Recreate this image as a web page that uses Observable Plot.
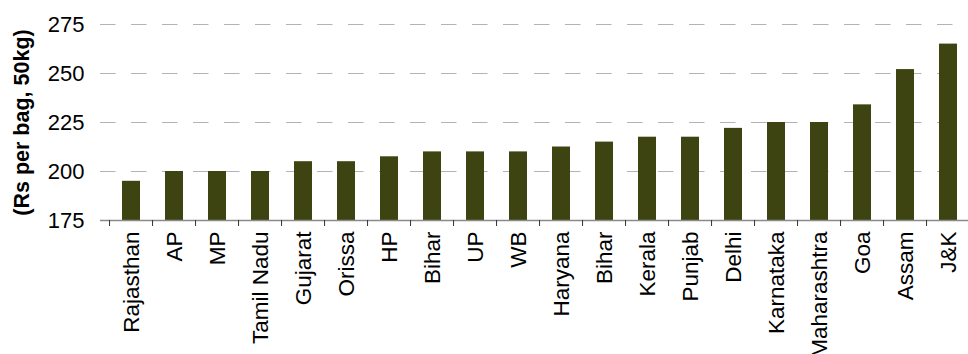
<!DOCTYPE html>
<html>
<head>
<meta charset="utf-8">
<script src="https://cdn.jsdelivr.net/npm/d3@7"></script>
<script src="https://cdn.jsdelivr.net/npm/@observablehq/plot@0.6"></script>
<style>
  html, body { margin: 0; padding: 0; background: #fff; overflow: hidden; }
  #wrap { position: relative; width: 968px; height: 354px; overflow: hidden; }
  #title {
    position: absolute; left: -12px; top: -13px;
    font: bold 20px/20px "Liberation Serif", "Times New Roman", serif;
    color: #000; white-space: nowrap;
  }
  #chart { position: absolute; left: 0; top: 0; }
</style>
</head>
<body>
<div id="wrap">
  <div id="title">Average cement prices by state</div>
  <div id="chart"></div>
</div>
<script>
// Cement price by state, Rs per 50kg bag
const states = ["Rajasthan", "AP", "MP", "Tamil Nadu", "Gujarat", "Orissa", "HP", "Bihar", "UP", "WB",
                "Haryana", "Bihar", "Kerala", "Punjab", "Delhi", "Karnataka", "Maharashtra", "Goa", "Assam", "J&K"];
const prices = [195, 200, 200, 200, 205, 205, 207.5, 210, 210, 210,
                212.5, 215, 217.5, 217.5, 222, 225, 225, 234, 252, 265];
const yTicks = [175, 200, 225, 250, 275];
const yLabel = "(Rs per bag, 50kg)";

// "Bihar" appears twice, so bars are keyed by position
const idx = d3.range(states.length);
const rows = idx.map(i => ({i, state: states[i], price: prices[i]}));

const chart = Plot.plot({
  width: 968,
  height: 354,
  marginTop: 24,
  marginBottom: 134,
  marginLeft: 100,
  marginRight: -10,
  style: {fontFamily: "'Liberation Sans', Arial, sans-serif", fontSize: "22px", color: "#000", background: "#fff"},
  x: {type: "band", domain: idx, paddingInner: 0.59, paddingOuter: 0.295, align: 0.5},
  y: {domain: [175, 275]},
  marks: [
    // dashed gridlines
    Plot.ruleY(yTicks.filter(t => t > 175), {stroke: "#b3b3b3", strokeWidth: 1.2, strokeDasharray: "15.5,15.5"}),
    Plot.barY(rows, {x: "i", y1: 175, y2: "price", fill: "#3d4411"}),
    // baseline
    Plot.ruleY([175], {stroke: "#8a8a8a", strokeWidth: 1.6}),
    // y tick labels
    Plot.axisY({ticks: yTicks, tickSize: 0, tickPadding: 16, tickFormat: d => d, fontSize: 22, label: null}),
    // tick marks between categories
    Plot.axisX({tickSize: 6, tickFormat: () => "", dx: -21.95, stroke: "#333", label: null}),
    // rotated category names
    Plot.axisX({tickSize: 0, tickPadding: 11, tickRotate: -90, tickFormat: i => states[i], fontSize: 22.5, label: null}),
    // axis title
    Plot.text([yLabel], {frameAnchor: "left", textAnchor: "middle", rotate: -90, dx: -78, fontWeight: "bold", fontSize: 21.5})
  ]
});
document.getElementById("chart").appendChild(chart);
</script>
</body>
</html>
